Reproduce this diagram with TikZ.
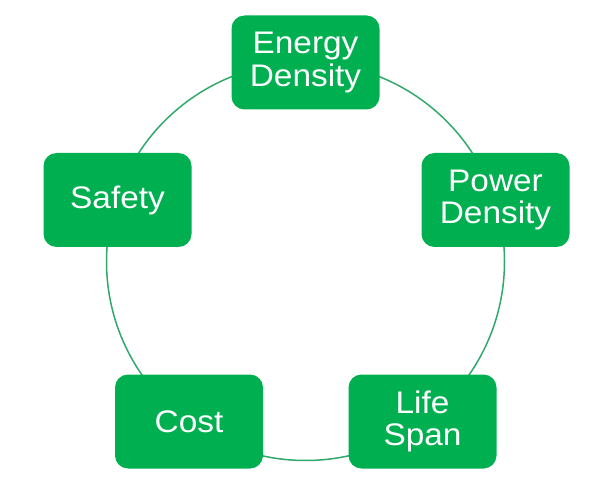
\documentclass[tikz,border=0pt]{standalone}
\usepackage{fontspec}
\setmainfont{Liberation Sans}[FakeStretch=1.07]
\definecolor{boxgreen}{HTML}{00B050}
\definecolor{ringgreen}{HTML}{2FA86A}
\begin{document}
\begin{tikzpicture}[x=1pt,y=-1pt,
  factor/.style={draw=none,fill=boxgreen,rounded corners=13pt,
    minimum width=148pt,minimum height=94pt,inner sep=0pt,
    text=white,align=center,
    font=\fontsize{31.2}{32.5}\selectfont},
  ring/.style={draw=ringgreen,line width=1.5pt}]
\useasboundingbox (0,0) rectangle (608,481);
\coordinate (c) at (305.5,261.5);
\draw[ring] (c) circle[radius=199pt];
\node[factor] (energy) at (305.5,62.5) {Energy\\Density};
\node[factor] (power) at (495.5,200) {Power\\Density};
\node[factor] (life) at (422.5,421.5) {Life\\Span};
\node[factor] (cost) at (189,421.5) {Cost};
\node[factor] (safety) at (117.5,200) {Safety};
\end{tikzpicture}
\end{document}
